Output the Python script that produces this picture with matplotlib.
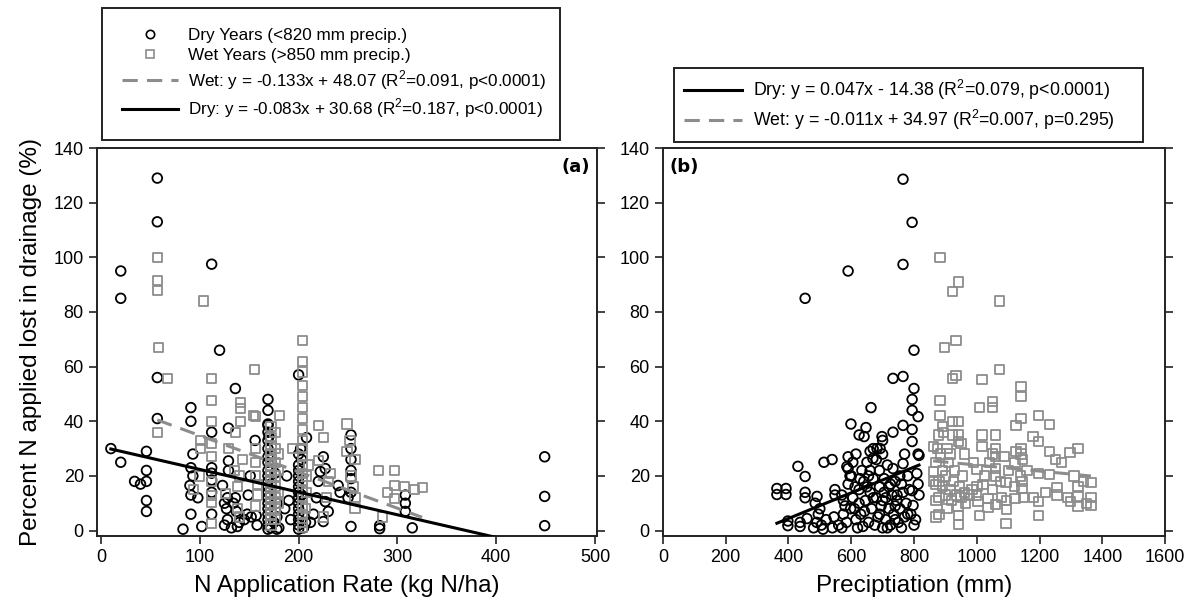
import numpy as np
import matplotlib
matplotlib.use("Agg")
import matplotlib.pyplot as plt
from matplotlib.lines import Line2D

plt.rcParams['font.family'] = ['Liberation Sans', 'DejaVu Sans']
plt.rcParams['mathtext.fontset'] = 'custom'
plt.rcParams['mathtext.rm'] = 'Liberation Sans'

# ---- panel (a): N application rate (kg N/ha) vs % N lost ----
dry_rate = [
    (10, 30), (20, 95), (20, 85), (20, 25), (34, 18), (40, 17), (46, 18), (46, 29),
    (46, 22), (46, 11), (46, 7), (57, 129), (57, 113), (57, 56), (57, 41), (83, 0.5),
    (91, 45), (91, 40), (93, 28), (91, 23), (93, 20), (90, 16.5), (91, 13), (98, 12),
    (91, 6), (102, 1.5), (112, 97.5), (112, 36), (112, 23), (112, 21), (112, 18.5),
    (112, 14), (112, 6), (120, 66), (123, 16.5), (125, 10), (127, 8), (128, 12),
    (125, 2), (128, 4), (132, 1), (129, 37.5), (129, 25.5), (129, 22), (136, 52),
    (134, 10), (137, 7), (140, 3), (138, 1.5), (136, 12), (149, 13), (156, 33),
    (151, 20), (145, 4), (148, 6), (152, 5), (157, 5.5), (158, 2), (169, 48),
    (169, 44), (169, 39), (169, 38.5), (169, 36), (169, 33), (169, 30), (169, 27),
    (169, 25), (169, 22), (169, 20), (169, 18), (169, 16), (169, 14), (169, 12),
    (169, 10), (169, 8), (169, 6), (169, 4), (169, 2), (169, 0.5), (172, 1), (175, 3),
    (172, 17), (178, 10), (178, 5), (178, 0.5), (180, 1), (176, 21), (170, 34.5),
    (186, 8), (190, 11), (192, 4), (188, 20), (200, 57), (200, 28), (200, 24),
    (200, 22), (200, 20), (200, 18), (200, 16), (200, 14), (200, 12), (200, 10),
    (200, 8), (200, 6), (200, 4), (200, 2), (200, 0.5), (202, 30), (203, 26),
    (205, 1), (207, 3), (208, 34), (203, 13), (212, 3), (215, 6), (225, 27),
    (222, 21.6), (227, 22.7), (225, 3.3), (227, 10.6), (218, 12), (230, 7), (220, 18),
    (240, 16.5), (242, 14), (253, 35), (253, 30), (253, 26), (253, 22), (253, 19),
    (253, 14), (253, 1.5), (250, 12), (282, 1.8), (282, 0.7), (308, 13), (308, 10),
    (308, 7), (315, 1), (449, 27), (449, 12.5), (449, 1.8),
]

wet_rate = [
    (57, 100), (57, 91.5), (57, 88), (58, 67), (57, 36), (67, 55.7), (94, 15),
    (101, 33), (101, 30), (104, 84), (100, 20), (112, 55.7), (112, 47.7), (112, 40),
    (112, 27), (112, 12.8), (112, 10.2), (112, 2.6), (112, 32), (112, 18), (126, 13.6),
    (129, 30), (136, 36), (141, 47), (141, 44.7), (141, 40), (143, 26), (140, 20),
    (138, 16), (135, 22), (138, 8), (140, 5), (155, 59), (154, 42), (156, 41.7),
    (156, 30), (156, 9), (158, 13), (156, 20), (156, 25), (158, 17), (172, 38),
    (172, 34), (172, 31), (172, 28), (172, 26), (172, 24), (172, 22), (172, 20),
    (172, 18), (172, 16), (172, 14), (172, 12), (172, 10), (172, 8), (172, 6),
    (172, 4), (172, 2), (176, 36), (176, 30), (176, 25), (176, 20), (176, 16),
    (176, 12), (176, 8), (176, 4), (181, 42), (180, 28), (180, 22), (180, 14),
    (180, 10), (194, 30), (204, 69.6), (204, 62), (204, 58), (204, 53), (204, 49),
    (204, 45), (204, 41), (204, 37), (204, 33), (204, 30), (204, 27), (204, 24),
    (204, 21), (204, 18), (204, 15), (204, 12), (204, 9), (204, 6), (204, 3),
    (204, 1), (208, 20), (208, 14), (207, 8), (210, 24), (220, 38.5), (225, 34),
    (232, 21), (220, 25.6), (228, 12), (230, 18), (225, 5), (249, 39), (249, 29),
    (257, 26), (257, 8), (253, 20), (255, 16), (257, 12), (252, 33), (281, 22),
    (297, 22), (297, 16.5), (307, 16), (317, 15), (325, 15.8), (297, 11.7),
    (290, 14), (285, 5),
]

# ---- panel (b): precipitation (mm) vs % N lost ----
dry_precip = [
    (765, 128.6), (794, 112.8), (765, 97.4), (590, 95), (453, 85), (800, 66),
    (733, 55.7), (765, 56.4), (800, 52), (794, 48), (794, 44), (813, 41.7), (663, 45),
    (599, 39), (647, 37.7), (625, 35), (641, 34.4), (733, 36), (765, 38.5), (794, 37),
    (794, 32.6), (813, 28), (698, 34.4), (700, 33), (430, 23.5), (453, 19.8), (513, 25),
    (539, 26), (590, 27), (590, 22.7), (363, 15.4), (363, 13.2), (392, 15.4),
    (392, 13.2), (453, 14), (453, 12), (491, 12.5), (548, 15), (548, 13), (398, 1.8),
    (437, 1.5), (459, 4.4), (437, 3), (398, 3.5), (480, 1), (490, 3), (495, 6),
    (505, 2), (510, 0.5), (500, 8), (485, 10), (520, 4), (540, 1), (545, 5), (560, 2),
    (570, 1), (575, 6), (580, 9), (570, 13), (590, 17), (600, 20), (605, 12), (610, 8),
    (615, 4), (620, 1), (625, 15), (630, 6), (637, 1.5), (640, 18), (645, 11),
    (650, 25), (655, 3), (660, 22), (660, 14), (665, 8), (670, 30), (670, 19),
    (675, 2), (680, 26), (680, 12), (685, 5), (690, 22), (690, 16), (695, 9), (700, 28),
    (700, 1), (705, 19), (710, 12), (710, 4), (715, 24), (720, 16), (720, 8), (725, 2),
    (730, 13), (733, 22.7), (735, 6), (740, 18), (745, 11), (746, 13), (750, 3),
    (755, 8), (760, 17), (765, 24.5), (765, 14), (770, 5), (775, 10), (780, 20),
    (785, 15), (794, 14.6), (797, 9.2), (800, 2), (809, 20.9), (813, 17), (816, 13),
    (816, 27.5), (660, 29), (682, 30), (692, 30), (634, 22), (669, 26.4), (586, 23.4),
    (596, 20), (605, 25), (615, 28), (625, 10), (650, 16), (670, 12), (690, 6),
    (705, 14), (715, 1), (740, 4), (755, 20), (770, 28), (790, 6), (805, 4),
    (598, 8), (612, 16), (628, 19), (642, 7), (655, 20), (700, 11), (725, 17),
    (740, 9), (760, 1), (780, 6), (575, 11), (585, 3),
]

wet_precip = [
    (883, 100), (943, 91), (922, 87.5), (1072, 84), (896, 67), (934, 69.6), (1072, 59),
    (922, 55.7), (934, 56.8), (1017, 55.3), (883, 47.6), (1008, 45), (1049, 47.3),
    (1049, 45), (1141, 52.7), (1141, 49), (883, 42), (922, 40), (941, 40), (890, 38),
    (895, 36), (878, 35), (922, 35), (941, 35), (941, 32.6), (1017, 35), (1017, 30.8),
    (1049, 28), (1087, 27), (1060, 27), (1125, 38.5), (1141, 41), (1198, 42),
    (1231, 38.8), (1179, 34.4), (1198, 32.6), (1231, 29), (1252, 26), (1297, 28.6),
    (1323, 30), (1125, 29), (1141, 28), (1141, 30), (1122, 25), (1147, 26),
    (1001, 22.3), (1061, 22.7), (1061, 20), (1093, 17.6), (1144, 18), (1144, 15.4),
    (1198, 21), (1231, 20.5), (1256, 15.7), (1256, 13), (1323, 16), (1364, 17.6),
    (1323, 12.4), (1323, 8.8), (1364, 12), (1364, 9.2), (1300, 10.6), (1198, 10.6),
    (1198, 5.5), (1093, 2.6), (1096, 7.7), (1096, 11), (1061, 9.5), (1036, 11.7),
    (1036, 8.4), (1008, 5.5), (1001, 16), (1004, 10.6), (943, 5.5), (941, 2.2),
    (870, 5), (870, 11), (861, 18), (861, 30.8), (861, 21.6), (880, 18), (880, 12),
    (880, 6), (890, 22), (890, 16), (900, 20), (900, 13), (905, 8), (910, 25),
    (915, 15), (920, 11), (925, 18), (930, 22), (935, 13), (940, 9), (945, 16),
    (950, 12), (955, 20), (960, 14), (965, 10), (975, 13), (985, 15), (990, 25),
    (1000, 13), (1020, 17), (1025, 20), (1040, 25), (1050, 15), (1060, 30), (1075, 18),
    (1100, 22), (1120, 16), (1122, 11.7), (1140, 20), (1160, 22), (1180, 12),
    (1220, 14), (1270, 25), (1290, 12), (1310, 20), (1340, 18), (1350, 10), (870, 25),
    (875, 30), (885, 28), (905, 30), (915, 28), (950, 32), (960, 28), (870, 17),
    (1060, 35), (1080, 12), (1150, 12),
]

# regression coefficients from the legends (slope, intercept)
fit_a_wet = (-0.133, 48.07)
fit_a_dry = (-0.083, 30.68)
fit_b_dry = (0.047, -14.38)
fit_b_wet = (-0.011, 34.97)

lab_dry_pts = 'Dry Years (<820 mm precip.)'
lab_wet_pts = 'Wet Years (>850 mm precip.)'
lab_a_wet = r'Wet: y = -0.133x + 48.07 (R$^2$=0.091, p<0.0001)'
lab_a_dry = r'Dry: y = -0.083x + 30.68 (R$^2$=0.187, p<0.0001)'
lab_b_dry = r'Dry: y = 0.047x - 14.38 (R$^2$=0.079, p<0.0001)'
lab_b_wet = r'Wet: y = -0.011x + 34.97 (R$^2$=0.007, p=0.295)'

GRAY = '#8c8c8c'


def fit_line(ax, pts, coef, **kw):
    xs = np.array([p[0] for p in pts])
    xx = np.array([xs.min(), xs.max()])
    ax.plot(xx, coef[0] * xx + coef[1], **kw)


def scatter(ax, pts, marker, color, size):
    ax.scatter([p[0] for p in pts], [p[1] for p in pts], marker=marker, s=size,
               facecolors='none', edgecolors=color, linewidths=1.3, zorder=2)


def style(ax):
    for s in ax.spines.values():
        s.set_linewidth(1.4)
        s.set_color('#222222')
    ax.tick_params(axis='both', direction='out', length=6, width=1.2,
                   labelsize=13, colors='#222222', labelcolor='black')
    ax.tick_params(axis='y', right=True, labelright=False)
    ax.set_ylim(-2, 140)
    ax.set_yticks(range(0, 141, 20))


fig = plt.figure(figsize=(11.95, 6.05), dpi=100)
ax1 = fig.add_axes([0.0812, 0.114, 0.4184, 0.6413])
ax2 = fig.add_axes([0.5548, 0.114, 0.4201, 0.6413])

# panel (a)
scatter(ax1, dry_rate, 'o', 'black', 48)
scatter(ax1, wet_rate, 's', GRAY, 44)
fit_line(ax1, wet_rate, fit_a_wet, color=GRAY, lw=2.2, ls=(0, (5, 3)), zorder=3)
fit_line(ax1, dry_rate, fit_a_dry, color='black', lw=2.2, zorder=3)
ax1.set_xlim(-4, 502)
ax1.set_xticks(range(0, 501, 100))
style(ax1)
ax1.set_xlabel('N Application Rate (kg N/ha)', fontsize=17.5, labelpad=6)
ax1.set_ylabel('Percent N applied lost in drainage (%)', fontsize=17.5, labelpad=8)
ax1.text(0.985, 0.975, '(a)', transform=ax1.transAxes, ha='right', va='top',
         fontsize=13, fontweight='bold', family='DejaVu Sans')

# panel (b)
scatter(ax2, dry_precip, 'o', 'black', 48)
scatter(ax2, wet_precip, 's', GRAY, 44)
fit_line(ax2, dry_precip, fit_b_dry, color='black', lw=2.2, zorder=3)
fit_line(ax2, wet_precip, fit_b_wet, color=GRAY, lw=2.2, ls=(0, (5, 3)), zorder=3)
ax2.set_xlim(0, 1600)
ax2.set_xticks(range(0, 1601, 200))
style(ax2)
ax2.set_xlabel('Preciptiation (mm)', fontsize=17.5, labelpad=6)
ax2.text(0.012, 0.975, '(b)', transform=ax2.transAxes, ha='left', va='top',
         fontsize=13, fontweight='bold', family='DejaVu Sans')

# legends
h_dry = Line2D([], [], ls='none', marker='o', mfc='none', mec='black', ms=6, mew=1.2)
h_wet = Line2D([], [], ls='none', marker='s', mfc='none', mec=GRAY, ms=5.5, mew=1.2)
h_wl = Line2D([], [], color=GRAY, lw=2.2, ls=(0, (5, 3)))
h_dl = Line2D([], [], color='black', lw=2.2)

leg_kw = dict(frameon=True, fancybox=False, framealpha=1,
              edgecolor='#222222', borderaxespad=0)
lg1 = fig.legend([h_dry, h_wet, h_wl, h_dl],
                 [lab_dry_pts, lab_wet_pts, lab_a_wet, lab_a_dry],
                 loc='lower left', bbox_to_anchor=(102 / 1195, 1 - 140 / 605,
                                                   458 / 1195, 132 / 605),
                 mode='expand', fontsize=12.3, borderpad=1.15, labelspacing=0.3,
                 handlelength=3.3, handletextpad=0.6, **leg_kw)
lg1.get_frame().set_linewidth(1.4)
lg2 = fig.legend([h_dl, h_wl], [lab_b_dry, lab_b_wet],
                 loc='lower left', bbox_to_anchor=(674 / 1195, 1 - 142 / 605,
                                                   469 / 1195, 74 / 605),
                 mode='expand', fontsize=12.8, borderpad=0.55, labelspacing=0.35,
                 handlelength=3.3, handletextpad=0.6, **leg_kw)
lg2.get_frame().set_linewidth(1.4)

fig.savefig('out.png', dpi=100)
